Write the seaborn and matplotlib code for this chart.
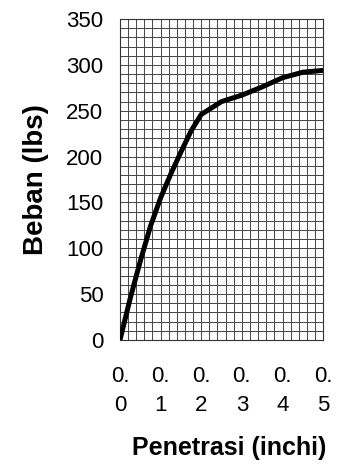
import matplotlib
matplotlib.use('Agg')
import matplotlib.pyplot as plt
import seaborn as sns
import pandas as pd
import numpy as np

# data
penetrasi = [0, 0.025, 0.05, 0.075, 0.1, 0.125, 0.15, 0.175, 0.2, 0.25, 0.3, 0.35, 0.4, 0.45, 0.5]
beban = [0, 45, 86, 124, 155, 181, 205, 228, 246, 260, 267, 276, 286, 292, 294]
x_ticks = [0.0, 0.1, 0.2, 0.3, 0.4, 0.5]
x_ticklabels = ['0.\n0', '0.\n1', '0.\n2', '0.\n3', '0.\n4', '0.\n5']
y_ticks = [0, 50, 100, 150, 200, 250, 300, 350]

data = pd.DataFrame({'Penetrasi': penetrasi, 'Beban': beban})

sns.set_style('white')
plt.rcParams['font.family'] = ['Liberation Sans', 'DejaVu Sans']
plt.rcParams['text.color'] = 'black'
plt.rcParams['xtick.color'] = 'black'
plt.rcParams['ytick.color'] = 'black'
plt.rcParams['axes.labelcolor'] = 'black'

fig = plt.figure(figsize=(3.38, 4.65), dpi=100)
ax = fig.add_axes([0.355, 0.269, 0.601, 0.690])

g = sns.lineplot(x='Penetrasi', y='Beban', data=data, color='black',
                 linewidth=3.6, ax=ax, zorder=3)

ax.set_xlim(0, 0.5)
ax.set_ylim(0, 350)
ax.set_xticks(x_ticks)
ax.set_xticklabels(x_ticklabels, fontsize=16, multialignment='center', linespacing=1.45)
ax.set_yticks(y_ticks)
ax.set_yticklabels([str(v) for v in y_ticks], fontsize=16)
ax.set_xticks(np.arange(0, 0.501, 0.02), minor=True)
ax.set_yticks(np.arange(0, 351, 10), minor=True)

#fine grid like graph paper
ax.grid(True, which='both', color='#444444', linewidth=0.7)
ax.tick_params(axis='both', which='both', length=0)
ax.tick_params(axis='y', pad=12)
ax.tick_params(axis='x', pad=19)
for s in ax.spines.values():
    s.set_color('#333333')
    s.set_linewidth(0.8)

ax.set_xlabel('Penetrasi (inchi)', fontsize=18, fontweight='bold')
ax.xaxis.set_label_coords(0.54, -0.30)
ax.set_ylabel('Beban (lbs)', fontsize=20, fontweight='bold', labelpad=12)

plt.savefig('out.png', dpi=100)
